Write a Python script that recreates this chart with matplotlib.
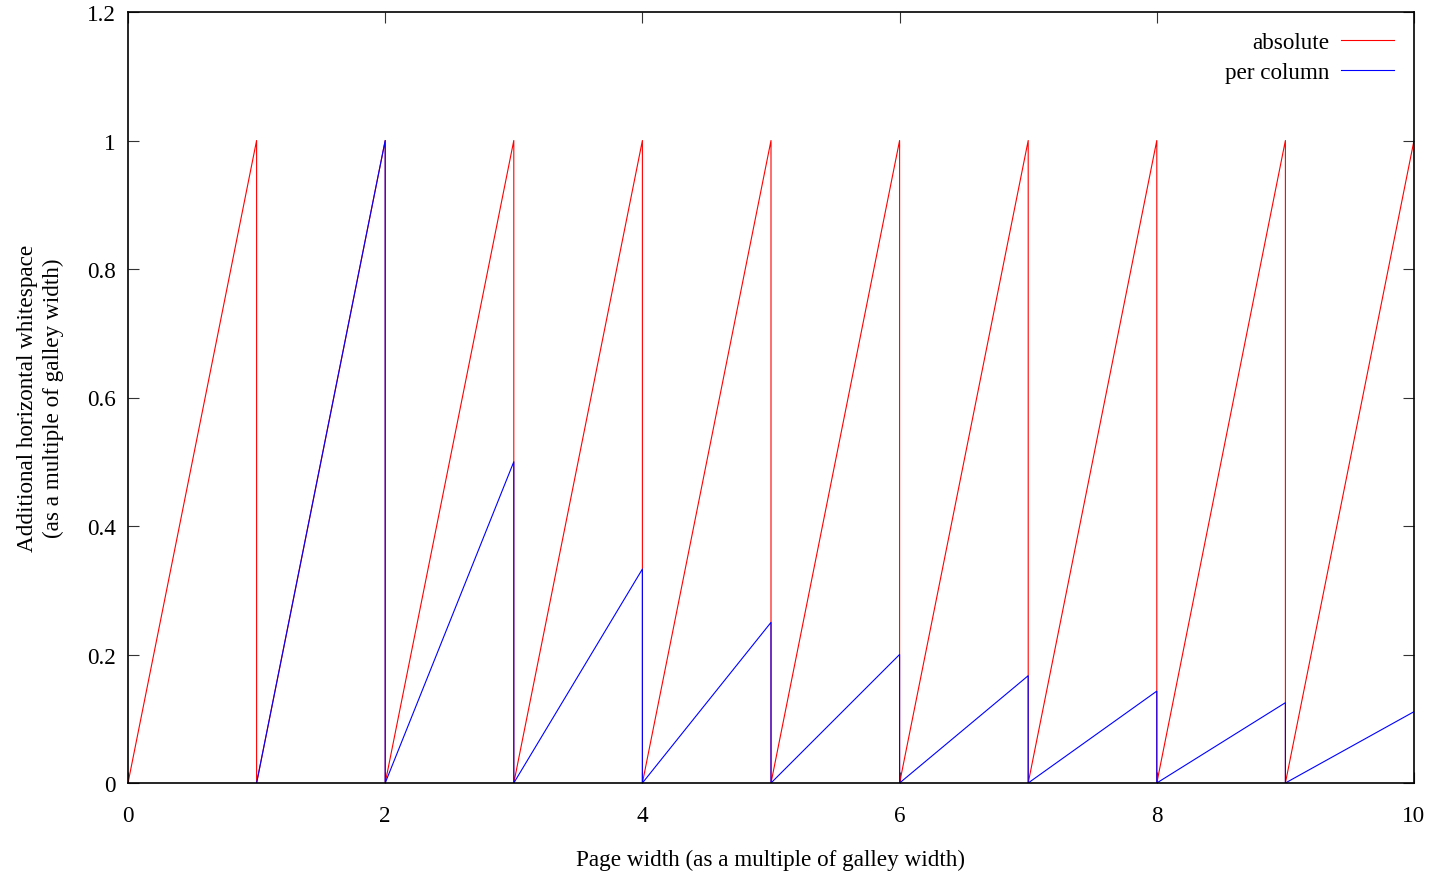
import matplotlib.pyplot as plt
import numpy as np

# segment boundaries (page width, multiple of galley width)
seg_start = [0, 1, 2, 3, 4, 5, 6, 7, 8, 9]
seg_end = [1, 2, 3, 4, 5, 6, 7, 8, 9, 10]
# peak of each sawtooth tooth
peak_absolute = [1, 1, 1, 1, 1, 1, 1, 1, 1, 1]
peak_per_column = [None, 1, 0.5, 0.333, 0.25, 0.2, 0.167, 0.143, 0.125, 0.111]

xticks = [0, 2, 4, 6, 8, 10]
yticks = [0, 0.2, 0.4, 0.6, 0.8, 1, 1.2]
ytick_labels = ["0", "0.2", "0.4", "0.6", "0.8", "1", "1.2"]


def sawtooth(starts, ends, peaks):
    xs, ys = [], []
    for a, b, p in zip(starts, ends, peaks):
        if p is None:
            continue
        xs += [a, b, b]
        ys += [0, p, 0]
    # last tooth stays at its peak
    return xs[:-1], ys[:-1]


plt.rcParams['font.family'] = ['Liberation Serif', 'DejaVu Serif']
plt.rcParams['font.size'] = 16.7

fig = plt.figure(figsize=(14.32, 8.78), dpi=100)
ax = fig.add_axes([128 / 1432, 1 - 784 / 878, (1414 - 128) / 1432, (784 - 13) / 878])

xa, ya = sawtooth(seg_start, seg_end, peak_absolute)
xp, yp = sawtooth(seg_start, seg_end, peak_per_column)
ax.plot(xa, ya, color="red", lw=0.8, label="absolute")
ax.plot(xp, yp, color="blue", lw=0.8, label="per column")

ax.set_xlim(0, 10)
ax.set_ylim(0, 1.2)
ax.set_xticks(xticks)
ax.set_xticklabels([str(t) for t in xticks])
ax.set_yticks(yticks)
ax.set_yticklabels(ytick_labels)
ax.tick_params(direction="in", length=8, width=0.8, top=True, right=True,
               colors="#333333", labelcolor="black")
ax.tick_params(axis="x", pad=16)
ax.tick_params(axis="y", pad=9)
for s in ax.spines.values():
    s.set_linewidth(1.2)

ax.set_xlabel("Page width (as a multiple of galley width)", labelpad=16)
ax.set_ylabel("Additional horizontal whitespace\n(as a multiple of galley width)", labelpad=16,
              linespacing=1.3)

ax.legend(loc="upper right", frameon=False, markerfirst=False, handlelength=2.3,
          borderaxespad=0.5, borderpad=0.35, labelspacing=0.38, handletextpad=0.5)

fig.savefig("out.png", dpi=100)
